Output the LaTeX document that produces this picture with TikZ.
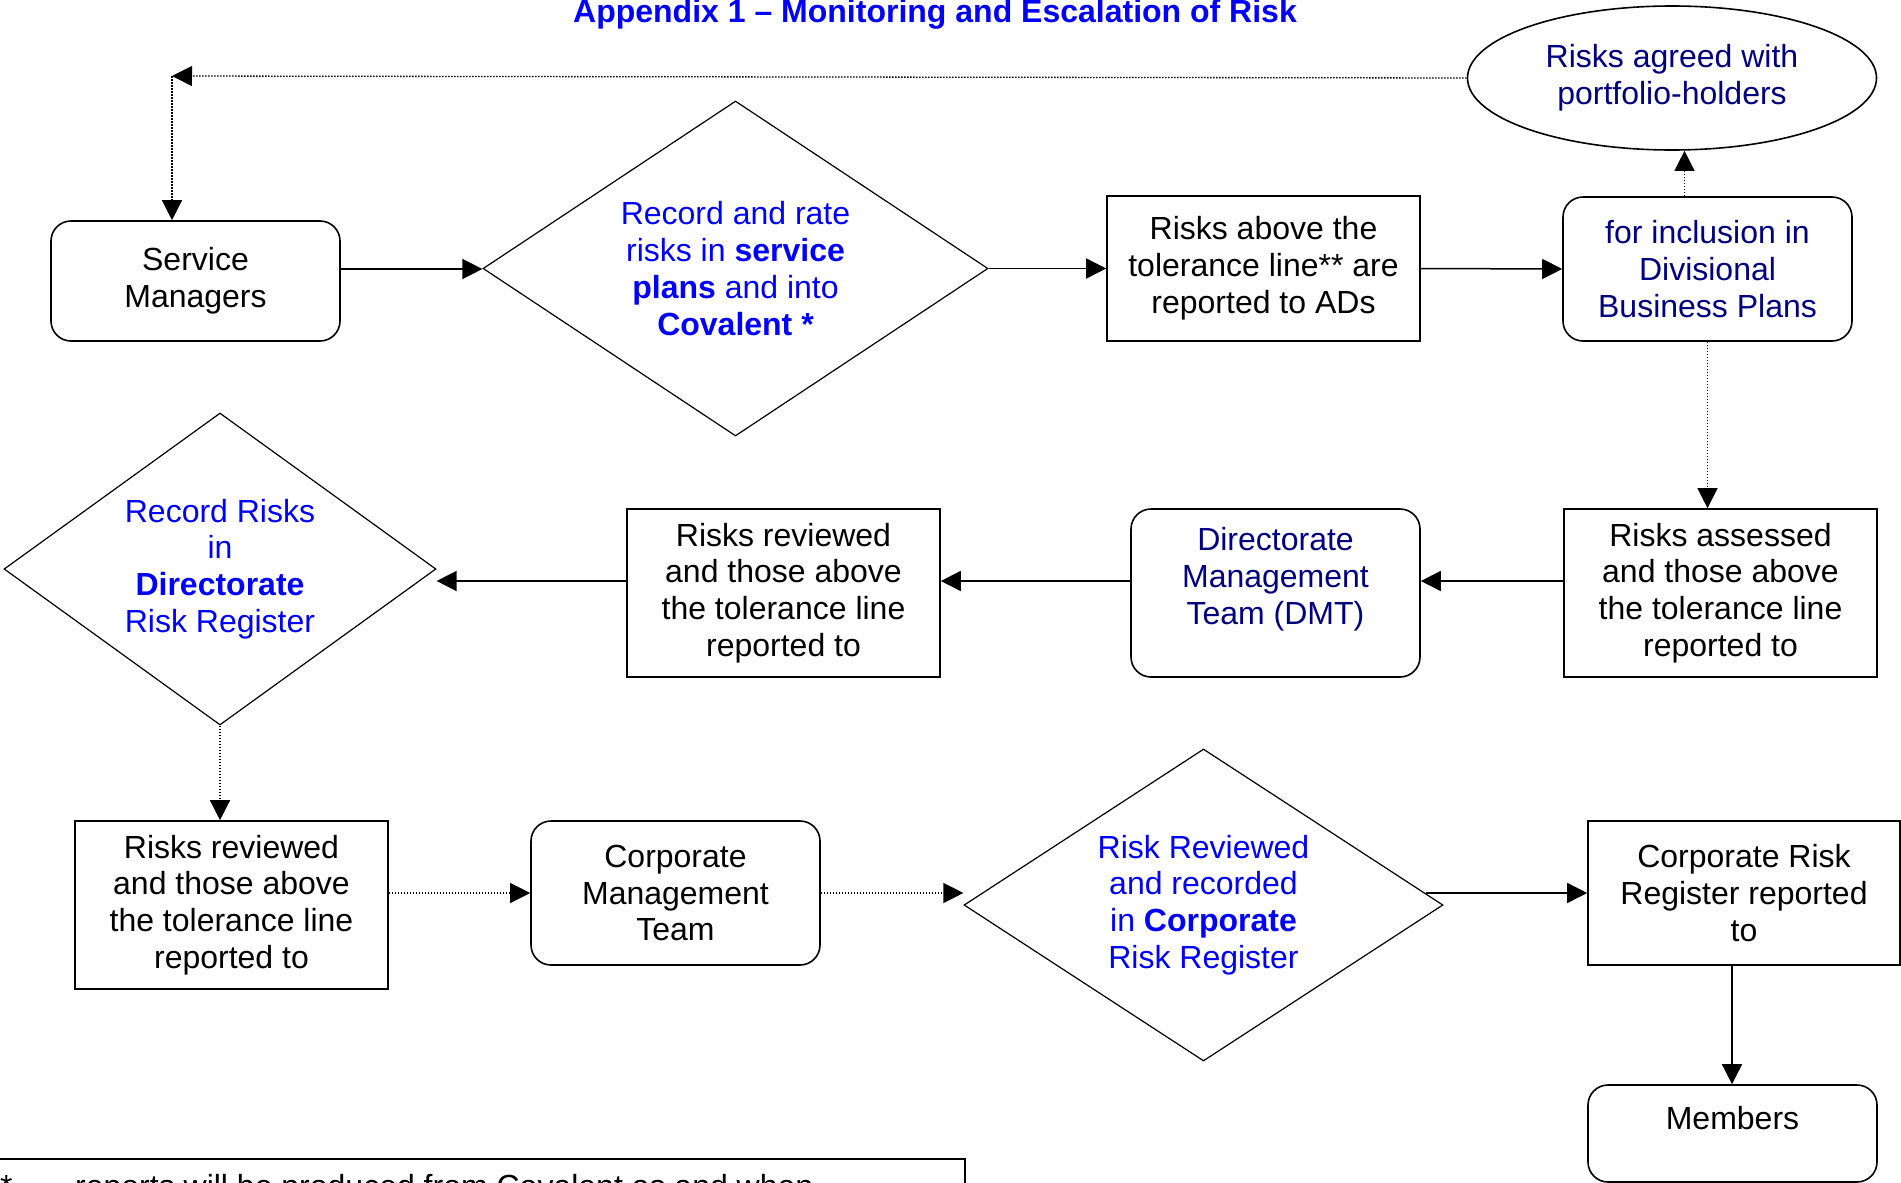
\documentclass[tikz,border=0pt]{standalone}
\usepackage{fontspec}
\setmainfont{Liberation Sans}
\usetikzlibrary{shapes.geometric,arrows.meta}
\definecolor{vivid}{RGB}{0,0,255}
\definecolor{navyblue}{RGB}{0,0,128}
\newcommand\bodysize{\fontsize{32}{36.8}\selectfont}

\begin{document}
\begin{tikzpicture}[x=1pt,y=-1pt,
    every node/.style={font=\bodysize, align=center, inner sep=0pt},
    sqbox/.style={draw, line width=1.6pt, minimum width=313pt},
    rbox/.style={draw, line width=1.6pt, rounded corners=20pt, minimum width=289pt},
    decide/.style={draw, diamond, line width=1.2pt, text=vivid},
    arr/.style={line width=1.5pt, -{Triangle[length=20pt,width=20pt]}},
    dotarr/.style={arr, line width=1.3pt, dash pattern=on 1.5pt off 1.5pt}]
  \useasboundingbox (0,0) rectangle (1901,1183);
  \clip (0,0) rectangle (1901,1183);

  \node[anchor=base, font=\bodysize\bfseries, text=vivid] (title) at (935,22)
    {Appendix 1 – Monitoring and Escalation of Risk};

  \node[draw, ellipse, line width=1.6pt, minimum width=409pt, minimum height=144pt,
    text=navyblue] (agreed) at (1672,78) {Risks agreed with\\portfolio-holders};
  \node[rbox, minimum height=120pt] (svc) at (195.5,281) {Service\\Managers};
  \node[decide, shape aspect=1.5, minimum width=505pt, minimum height=335pt] (rate)
    at (735.5,268.5)
    {Record and rate\\risks in \textbf{service}\\\textbf{plans} and into\\\textbf{Covalent *}};
  \node[sqbox, minimum height=145pt] (ads) at (1263.5,268.5)
    {Risks above the\\tolerance line** are\\reported to ADs};
  \node[rbox, minimum height=144pt, text=navyblue] (plans) at (1707.5,269)
    {for inclusion in\\Divisional\\Business Plans};

  \node[sqbox, minimum height=168pt] (assess) at (1720.5,593)
    {Risks assessed\\and those above\\the tolerance line\\reported to};
  \node[rbox, minimum height=168pt, text=navyblue] (dmt) at (1275.5,593)
    {Directorate\\Management\\Team (DMT)\\[-14pt]\strut};
  \node[sqbox, minimum height=168pt] (review) at (783.5,593)
    {Risks reviewed\\and those above\\the tolerance line\\reported to};
  \node[decide, shape aspect=1.38, minimum width=432pt, minimum height=312pt] (dreg)
    at (220,569) {Record Risks\\in\\\textbf{Directorate}\\Risk Register};

  \node[sqbox, minimum height=168pt] (review2) at (231.5,905)
    {Risks reviewed\\and those above\\the tolerance line\\reported to};
  \node[rbox, minimum height=144pt] (cmt) at (675.5,893) {Corporate\\Management\\Team};
  \node[decide, shape aspect=1.53, minimum width=479pt, minimum height=312pt] (creg)
    at (1203.5,905) {Risk Reviewed\\and recorded\\in \textbf{Corporate}\\Risk Register};
  \node[sqbox, minimum width=312pt, minimum height=144pt] (crr) at (1744,893)
    {Corporate Risk\\Register reported\\to};
  \node[rbox, minimum height=97pt] (members) at (1732.5,1133.5) {Members\\[-16pt]\strut};

  \node[draw, line width=1.6pt, anchor=north west, minimum width=970pt,
    minimum height=80pt] (note) at (-6,1158) {};
  \node[anchor=base west] (star) at (0,1197) {*};
  \node[anchor=base west] (notetext) at (75,1197)
    {reports will be produced from Covalent as and when};

  \coordinate (turn) at (172,76);
  \draw[dotarr] (agreed.west) -- (turn);
  \draw[dotarr] (turn) -- (turn |- svc.north);
  \draw[arr] ([yshift=12pt]svc.east) -- ([yshift=12pt]svc.east -| rate.west);
  \draw[arr] (rate.east) -- (ads.west);
  \draw[arr] (ads.east) -- (plans.west);
  \draw[dotarr] ([xshift=-23pt]plans.north) -- ([xshift=-23pt]plans.north |- agreed.south);
  \draw[dotarr] (plans.south) -- (plans.south |- assess.north);
  \draw[arr] ([yshift=12pt]assess.west) -- ([yshift=12pt]dmt.east);
  \draw[arr] ([yshift=12pt]dmt.west) -- ([yshift=12pt]review.east);
  \draw[arr] ([yshift=12pt]review.west) -- ([yshift=12pt]review.west -| dreg.east);
  \draw[dotarr] (dreg.south) -- (dreg.south |- review2.north);
  \draw[dotarr] (review2.east |- cmt.west) -- (cmt.west);
  \draw[dotarr] (cmt.east) -- (cmt.east -| creg.west);
  \draw[arr] (crr.west -| creg.3) -- (crr.west);
  \draw[arr] ([xshift=-12pt]crr.south) -- ([xshift=-12pt]crr.south |- members.north);
\end{tikzpicture}
\end{document}
